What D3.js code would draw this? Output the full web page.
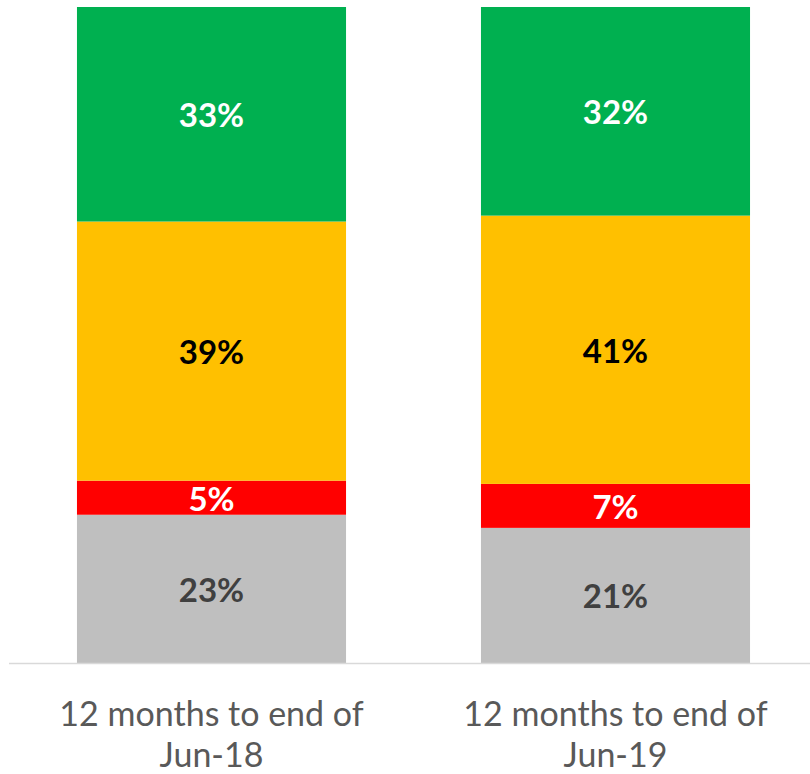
<!DOCTYPE html>
<html>
<head>
<meta charset="utf-8">
<script src="https://cdn.jsdelivr.net/npm/d3@7"></script>
<style>
  html, body { margin: 0; padding: 0; background: #fff; }
  svg { display: block; }
</style>
</head>
<body>
<svg id="root" width="810" height="774"></svg>
<script>
const categories = [['12 months to end of', 'Jun-18'], ['12 months to end of', 'Jun-19']];
const seriesNames = ['Grey', 'Red', 'Amber', 'Green'];
const seriesColors = ['#bfbfbf', '#ff0000', '#ffc000', '#00b050'];
const labelColors = ['#404040', '#ffffff', '#000000', '#ffffff'];
// values per category, bottom to top
const grey = [22.6, 20.6];
const red = [5.2, 6.7];
const amber = [39.5, 40.9];
const green = [32.7, 31.8];
const labels = [['23%', '5%', '39%', '33%'], ['21%', '7%', '41%', '32%']];

const root = d3.select('#root');
const svgWidth = +root.attr('width');

const baseY = 663;
const topY = 7;
const font = 'Lato, "Open Sans", sans-serif';

const x = d3.scaleBand()
    .domain(d3.range(categories.length))
    .range([9.5, 817.5])
    .paddingInner(0.334)
    .paddingOuter(0.167);

const y = d3.scaleLinear().domain([0, 100]).range([baseY, topY]);

const series = [grey, red, amber, green];
const rows = categories.map((c, i) => {
    const r = { i: i };
    series.forEach((s, k) => { r[k] = s[i]; });
    return r;
});
const stack = d3.stack().keys(d3.range(series.length));
const stacked = stack(rows);

const layers = root.selectAll('g.layer')
    .data(stacked)
    .enter()
    .append('g')
    .attr('class', 'layer')
    .attr('fill', (d, k) => seriesColors[k]);

layers.selectAll('rect')
    .data(d => d)
    .enter()
    .append('rect')
    .attr('x', d => x(d.data.i))
    .attr('width', x.bandwidth())
    .attr('y', d => y(d[1]))
    .attr('height', d => y(d[0]) - y(d[1]));

// axis line
root.append('line')
    .attr('x1', 9)
    .attr('x2', svgWidth)
    .attr('y1', baseY + 0.5)
    .attr('y2', baseY + 0.5)
    .attr('stroke', '#d9d9d9')
    .attr('stroke-width', 1.5);

// value labels
stacked.forEach((layer, k) => {
    root.selectAll('text.v' + k)
        .data(layer)
        .enter()
        .append('text')
        .attr('class', 'v' + k)
        .attr('x', d => x(d.data.i) + x.bandwidth() / 2)
        .attr('y', d => y((d[0] + d[1]) / 2) + 1)
        .attr('dy', '0.36em')
        .attr('text-anchor', 'middle')
        .attr('font-family', font)
        .attr('font-weight', 'bold')
        .attr('font-size', 33)
        .attr('fill', labelColors[k])
        .text(d => labels[d.data.i][k]);
});

// category labels
const cat = root.selectAll('text.cat')
    .data(categories)
    .enter()
    .append('text')
    .attr('class', 'cat')
    .attr('x', (d, i) => x(i) + x.bandwidth() / 2)
    .attr('y', 726)
    .attr('text-anchor', 'middle')
    .attr('font-family', font)
    .attr('font-size', 34)
    .attr('fill', '#595959');

cat.selectAll('tspan')
    .data(d => d)
    .enter()
    .append('tspan')
    .attr('x', function () { return d3.select(this.parentNode).attr('x'); })
    .attr('dy', (d, i) => i === 0 ? 0 : 41)
    .text(d => d);
</script>
</body>
</html>
